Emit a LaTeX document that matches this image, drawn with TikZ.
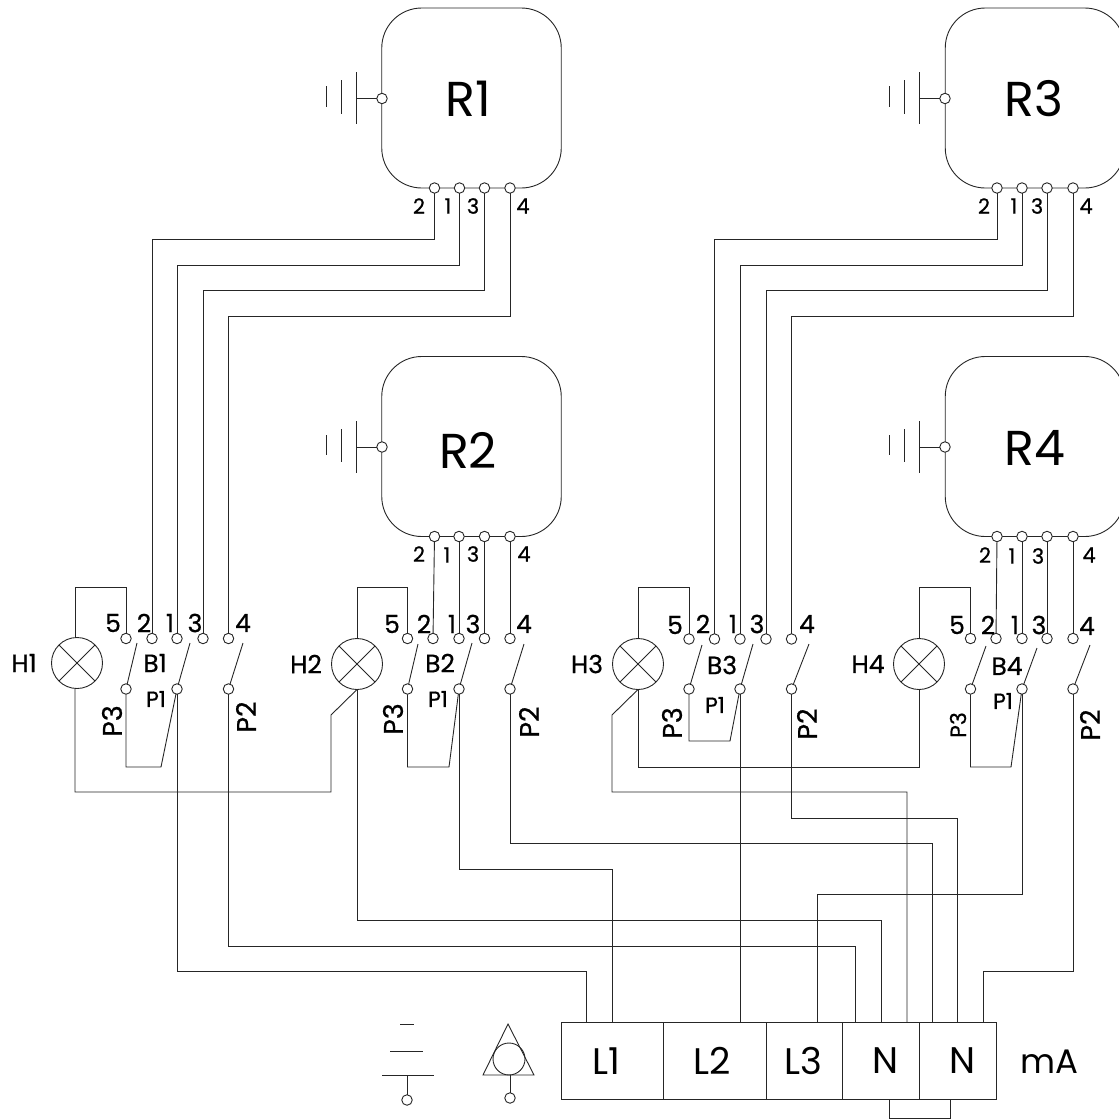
\documentclass[tikz,border=0pt]{standalone}
\usepackage{fontspec}
\setmainfont{Poppins}
\newfontfamily\heavyfont{Poppins}[FakeBold=0.6]
\tikzset{
  wire/.style={line width=0.9pt, black!85},
  pin/.style={circle, draw=black!85, line width=0.9pt, fill=white, inner sep=0pt, outer sep=0pt, minimum size=10.5pt},
  lamp/.style={circle, draw=black!85, line width=0.9pt, inner sep=0pt, outer sep=0pt, minimum size=51pt},
  relay/.style={draw=black!85, line width=0.9pt, rounded corners=40pt, inner sep=0pt, outer sep=0pt, minimum width=179.5pt, minimum height=180pt},
  cell/.style={draw=black!85, line width=0.9pt, inner sep=0pt, outer sep=0pt, minimum height=77pt},
  bigtxt/.style={inner sep=0pt, font=\fontsize{49}{49}\selectfont},
  midtxt/.style={inner sep=0pt, font=\fontsize{37}{37}\selectfont},
  unittxt/.style={inner sep=0pt, font=\fontsize{34}{34}\selectfont},
  numtxt/.style={inner sep=0pt, font=\heavyfont\fontsize{25}{25}\selectfont},
  pintxt/.style={inner sep=0pt, font=\heavyfont\fontsize{21}{21}\selectfont},
  poletxt/.style={inner sep=0pt, font=\heavyfont\fontsize{22}{22}\selectfont},
  sidetxt/.style={inner sep=0pt, rotate=90, font=\heavyfont\fontsize{27}{27}\selectfont}
}
\begin{document}
\begin{tikzpicture}[x=1pt, y=-1pt]
\path [use as bounding box, clip] (0, 0) rectangle (1119, 1119);

% relays
\node [relay] (r1) at (471.5, 98) {};
\node [relay] (r2) at (471.5, 446.5) {};
\node [relay] (r3) at (1035, 98) {};
\node [relay] (r4) at (1035, 446.5) {};
\node [bigtxt] (r1t) at (468, 99) {R1};
\node [bigtxt] (r2t) at (468, 450) {R2};
\node [bigtxt] (r3t) at (1034, 99) {R3};
\node [bigtxt] (r4t) at (1035, 448) {R4};

% ground side of the relays
\node [pin] (r1g) at (382, 98.5) {};
\node [pin] (r2g) at (382, 447) {};
\node [pin] (r3g) at (945, 98.5) {};
\node [pin] (r4g) at (945, 447) {};
\coordinate (r1e) at (356, 98.5);
\coordinate (r2e) at (356, 447);
\coordinate (r3e) at (919.5, 98.5);
\coordinate (r4e) at (919.5, 447);
\draw [wire] (r1g) -- (r1e);
\draw [wire] (r2g) -- (r2e);
\draw [wire] (r3g) -- (r3e);
\draw [wire] (r4g) -- (r4e);
\draw [wire] (356, 72) -- (356, 124);
\draw [wire] (341, 80) -- (341, 114);
\draw [wire] (326, 86) -- (326, 107);
\draw [wire] (356, 421) -- (356, 473);
\draw [wire] (341, 429) -- (341, 462);
\draw [wire] (326, 435) -- (326, 455);
\draw [wire] (919.5, 72) -- (919.5, 124);
\draw [wire] (904, 80) -- (904, 114);
\draw [wire] (889, 86) -- (889, 107);
\draw [wire] (919.5, 421) -- (919.5, 473);
\draw [wire] (904, 429) -- (904, 462);
\draw [wire] (889, 435) -- (889, 455);

% relay pins
\node [pin] (r1p2) at (434.5, 188) {};
\node [pin] (r1p1) at (459.5, 188) {};
\node [pin] (r1p3) at (484.5, 188) {};
\node [pin] (r1p4) at (510, 188) {};
\node [pin] (r2p2) at (434.5, 536.5) {};
\node [pin] (r2p1) at (459, 536.5) {};
\node [pin] (r2p3) at (484.5, 536.5) {};
\node [pin] (r2p4) at (510, 536.5) {};
\node [pin] (r3p2) at (997, 188) {};
\node [pin] (r3p1) at (1022, 188) {};
\node [pin] (r3p3) at (1047, 188) {};
\node [pin] (r3p4) at (1073, 188) {};
\node [pin] (r4p2) at (997, 536.5) {};
\node [pin] (r4p1) at (1022, 536.5) {};
\node [pin] (r4p3) at (1047, 536.5) {};
\node [pin] (r4p4) at (1073, 536.5) {};
\node [pintxt] (r1n2) at (419, 206) {2};
\node [pintxt] (r1n1) at (448, 206) {1};
\node [pintxt] (r1n3) at (473, 206) {3};
\node [pintxt] (r1n4) at (523, 206) {4};
\node [pintxt] (r2n2) at (419, 554) {2};
\node [pintxt] (r2n1) at (447, 555) {1};
\node [pintxt] (r2n3) at (473, 554) {3};
\node [pintxt] (r2n4) at (524, 554) {4};
\node [pintxt] (r3n2) at (984, 206) {2};
\node [pintxt] (r3n1) at (1014, 206) {1};
\node [pintxt] (r3n3) at (1037, 206) {3};
\node [pintxt] (r3n4) at (1086, 206) {4};
\node [pintxt] (r4n2) at (985, 555) {2};
\node [pintxt] (r4n1) at (1012, 556) {1};
\node [pintxt] (r4n3) at (1038, 556) {3};
\node [pintxt] (r4n4) at (1089, 555) {4};

% lamps
\node [lamp] (h1) at (77, 663) {};
\node [lamp] (h2) at (357, 664) {};
\node [lamp] (h3) at (638, 664) {};
\node [lamp] (h4) at (919, 664) {};
\draw [wire] (h1.45) -- (h1.225);
\draw [wire] (h1.135) -- (h1.315);
\draw [wire] (h2.45) -- (h2.225);
\draw [wire] (h2.135) -- (h2.315);
\draw [wire] (h3.45) -- (h3.225);
\draw [wire] (h3.135) -- (h3.315);
\draw [wire] (h4.45) -- (h4.225);
\draw [wire] (h4.135) -- (h4.315);
\node [numtxt] (h1t) at (24, 663) {H1};
\node [numtxt] (h2t) at (306, 664) {H2};
\node [numtxt] (h3t) at (587, 664) {H3};
\node [numtxt] (h4t) at (868, 664) {H4};

% contacts, first block
\node [pin] (h1c5) at (126, 638.5) {};
\node [pin] (h1c2) at (152, 638.5) {};
\node [pin] (h1c1) at (177, 638.5) {};
\node [pin] (h1c3) at (203, 638.5) {};
\node [pin] (h1c4) at (228.5, 638.5) {};
\node [pin] (h1p3) at (126, 689) {};
\node [pin] (h1p1) at (177, 689) {};
\node [pin] (h1p2) at (228.5, 689) {};
\node [numtxt] (h1n5) at (113, 623) {5};
\node [numtxt] (h1n2) at (144, 623) {2};
\node [numtxt] (h1n1) at (170, 623) {1};
\node [numtxt] (h1n3) at (195, 623) {3};
\node [numtxt] (h1n4) at (243, 623) {4};
\node [numtxt] (h1b) at (155, 663) {B1};
\node [poletxt] (h1l1) at (156, 699) {P1};
\node [sidetxt] (h1l3) at (112, 721) {P3};
\node [sidetxt] (h1l2) at (246, 717) {P2};

% contacts, second block
\node [pin] (h2c5) at (407.5, 638.5) {};
\node [pin] (h2c2) at (433, 638.5) {};
\node [pin] (h2c1) at (459, 638.5) {};
\node [pin] (h2c3) at (484.5, 638.5) {};
\node [pin] (h2c4) at (510, 638.5) {};
\node [pin] (h2p3) at (407.5, 689) {};
\node [pin] (h2p1) at (459, 689) {};
\node [pin] (h2p2) at (510, 689) {};
\node [numtxt] (h2n5) at (392, 624) {5};
\node [numtxt] (h2n2) at (424, 624) {2};
\node [numtxt] (h2n1) at (452, 624) {1};
\node [numtxt] (h2n3) at (473, 624) {3};
\node [numtxt] (h2n4) at (524, 624) {4};
\node [numtxt] (h2b) at (440, 663) {B2};
\node [poletxt] (h2l1) at (438, 699) {P1};
\node [sidetxt] (h2l3) at (393, 719) {P3};
\node [sidetxt] (h2l2) at (529, 722) {P2};

% contacts, third block
\node [pin] (h3c5) at (689, 639) {};
\node [pin] (h3c2) at (714.5, 639) {};
\node [pin] (h3c1) at (740, 639) {};
\node [pin] (h3c3) at (766, 639) {};
\node [pin] (h3c4) at (791.5, 639) {};
\node [pin] (h3p3) at (689, 689) {};
\node [pin] (h3p1) at (740, 689) {};
\node [pin] (h3p2) at (791.5, 689) {};
\node [numtxt] (h3n5) at (675, 625) {5};
\node [numtxt] (h3n2) at (703, 624) {2};
\node [numtxt] (h3n1) at (733, 624) {1};
\node [numtxt] (h3n3) at (757, 624) {3};
\node [numtxt] (h3n4) at (807, 624) {4};
\node [numtxt] (h3b) at (722, 665) {B3};
\node [poletxt] (h3l1) at (715, 705) {P1};
\node [sidetxt] (h3l3) at (672, 723) {P3};
\node [sidetxt] (h3l2) at (807, 724) {P2};

% contacts, fourth block
\node [pin] (h4c5) at (970.5, 638.5) {};
\node [pin] (h4c2) at (996, 638.5) {};
\node [pin] (h4c1) at (1022, 638.5) {};
\node [pin] (h4c3) at (1047, 638.5) {};
\node [pin] (h4c4) at (1073, 638.5) {};
\node [pin] (h4p3) at (970.5, 689) {};
\node [pin] (h4p1) at (1022, 689) {};
\node [pin] (h4p2) at (1073, 689) {};
\node [numtxt] (h4n5) at (957, 625) {5};
\node [numtxt] (h4n2) at (988, 625) {2};
\node [numtxt] (h4n1) at (1015, 625) {1};
\node [numtxt] (h4n3) at (1039, 625) {3};
\node [numtxt] (h4n4) at (1087, 626) {4};
\node [numtxt] (h4b) at (1007, 666) {B4};
\node [poletxt] (h4l1) at (1003, 701) {P1};
\node [poletxt, rotate=90] (h4l3) at (958, 725) {P3};
\node [sidetxt] (h4l2) at (1090, 725) {P2};

% free ends of the switch blades
\coordinate (h1f3) at (137, 643);
\coordinate (h1f1) at (190, 643);
\coordinate (h1f2) at (243, 643);
\coordinate (h2f3) at (418, 644);
\coordinate (h2f1) at (472, 643);
\coordinate (h2f2) at (524, 644);
\coordinate (h3f3) at (702, 645);
\coordinate (h3f1) at (753, 644);
\coordinate (h3f2) at (809, 644);
\coordinate (h4f3) at (986, 646);
\coordinate (h4f1) at (1037, 648);
\coordinate (h4f2) at (1090, 645);
\draw [wire] (h1p3) -- (h1f3);
\draw [wire] (h1p1) -- (h1f1);
\draw [wire] (h1p2) -- (h1f2);
\draw [wire] (h2p3) -- (h2f3);
\draw [wire] (h2p1) -- (h2f1);
\draw [wire] (h2p2) -- (h2f2);
\draw [wire] (h3p3) -- (h3f3);
\draw [wire] (h3p1) -- (h3f1);
\draw [wire] (h3p2) -- (h3f2);
\draw [wire] (h4p3) -- (h4f3);
\draw [wire] (h4p1) -- (h4f1);
\draw [wire] (h4p2) -- (h4f2);

% relay pins to contacts
\draw [wire] (r1p2) |- (152, 239) -- (h1c2);
\draw [wire] (r1p1) |- (177, 265) -- (h1c1);
\draw [wire] (r1p3) |- (203, 290) -- (h1c3);
\draw [wire] (r1p4) |- (228.5, 316) -- (h1c4);
\draw [wire] (r2p2) -- (h2c2);
\draw [wire] (r2p1) -- (h2c1);
\draw [wire] (r2p3) -- (h2c3);
\draw [wire] (r2p4) -- (h2c4);
\draw [wire] (r3p2) |- (714.5, 239) -- (h3c2);
\draw [wire] (r3p1) |- (740, 265) -- (h3c1);
\draw [wire] (r3p3) |- (766, 290) -- (h3c3);
\draw [wire] (r3p4) |- (791.5, 316) -- (h3c4);
\draw [wire] (r4p2) -- (h4c2);
\draw [wire] (r4p1) -- (h4c1);
\draw [wire] (r4p3) -- (h4c3);
\draw [wire] (r4p4) -- (h4c4);

% lamp tops to contact 5
\draw [wire] ([xshift=-2pt]h1.north) |- (126, 587) -- (h1c5);
\draw [wire] (h2.north) |- (407.5, 587) -- (h2c5);
\draw [wire] (h3.north) |- (689, 587) -- (h3c5);
\draw [wire] (h4.north) |- (970.5, 587) -- (h4c5);

% P3 to P1 links
\coordinate (h1k) at (161, 767);
\coordinate (h2k) at (449, 767);
\coordinate (h3k) at (730, 741);
\coordinate (h4k) at (1011, 767);
\draw [wire] (h1p3) |- (h1k) -- (h1p1);
\draw [wire] (h2p3) |- (h2k) -- (h2p1);
\draw [wire] (h3p3) |- (h3k) -- (h3p1);
\draw [wire] (h4p3) |- (h4k) -- (h4p1);

% terminal strip
\node [cell, minimum width=102pt] (l1) at (612, 1060.5) {};
\node [cell, minimum width=103pt] (l2) at (714.5, 1060.5) {};
\node [cell, minimum width=76pt] (l3) at (804, 1060.5) {};
\node [cell, minimum width=77pt] (n1) at (880.5, 1060.5) {};
\node [cell, minimum width=77pt] (n2) at (957.5, 1060.5) {};
\node [midtxt] (l1t) at (606, 1061) {L1};
\node [midtxt] (l2t) at (712, 1061) {L2};
\node [midtxt] (l3t) at (803, 1061) {L3};
\node [midtxt] (n1t) at (885, 1061) {N};
\node [midtxt] (n2t) at (962, 1061) {N};
\node [unittxt] (mat) at (1049, 1062) {mA};
\coordinate (l1a) at (586, 1022);
\coordinate (l1b) at (612, 1022);
\coordinate (l2a) at (740, 1022);
\coordinate (l3a) at (817, 1022);
\coordinate (n1a) at (855.5, 1022);
\coordinate (n1b) at (881, 1022);
\coordinate (n1c) at (907, 1022);
\coordinate (n2a) at (932, 1022);
\coordinate (n2b) at (957.5, 1022);
\coordinate (n2c) at (983, 1022);
\coordinate (n1d) at (889, 1099);
\coordinate (n2d) at (950, 1099);

% contacts to terminal strip
\draw [wire] (h1p1) |- (586, 971) -- (l1a);
\draw [wire] (h1p2) |- (855.5, 946) -- (n1a);
\draw [wire] (h2p1) |- (612, 869) -- (l1b);
\draw [wire] (h2p2) |- (932, 843) -- (n2a);
\draw [wire] (h2.south) |- (881, 920) -- (n1b);
\draw [wire] (h3p1) -- (l2a);
\draw [wire] (h3p2) |- (957.5, 818) -- (n2b);
\draw [wire] (h4p1) |- (817, 894) -- (l3a);
\draw [wire] (h4p2) |- (983, 971) -- (n2c);

% lamp returns
\draw [wire] ([xshift=-2pt]h1.south) |- (331, 792) -- (331, 715) -- (h2.south);
\draw [wire] (h3.south) -- (612, 715) |- (907, 792) -- (n1c);
\draw [wire] (h3.south) |- (919, 767) -- (h4.south);

% link under the strip
\draw [wire] (n1d) |- (950, 1118.5) -- (n2d);

% supply symbols
\node [pin] (g1) at (407, 1100) {};
\coordinate (g1e) at (407, 1075);
\draw [wire] (g1) -- (g1e);
\draw [wire] (382, 1075) -- (434, 1075);
\draw [wire] (390, 1051) -- (423, 1051);
\draw [wire] (400, 1024) -- (414, 1024);
\node [pin] (g2) at (510, 1098) {};
\coordinate (g2e) at (510, 1075);
\draw [wire] (g2) -- (g2e);
\draw [wire] (508, 1024) -- (534, 1075) -- (483, 1075) -- cycle;
\node [circle, draw=black!85, line width=0.9pt, inner sep=0pt, minimum size=32pt] (g2c) at (509, 1059) {};
\end{tikzpicture}
\end{document}
